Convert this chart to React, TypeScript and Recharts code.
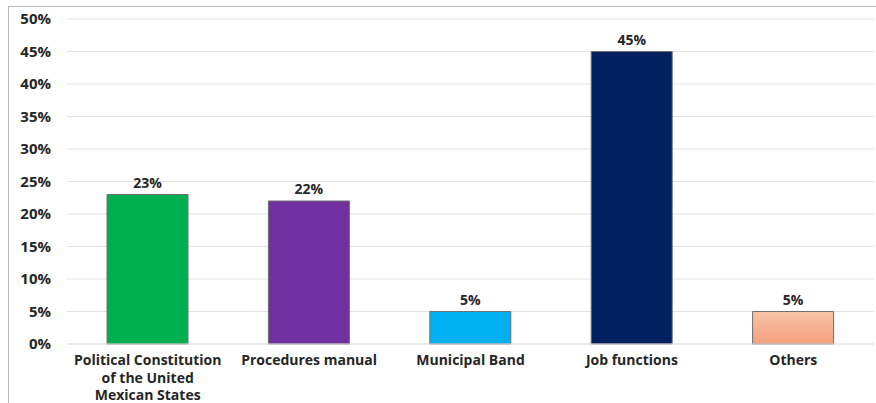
import { BarChart, Bar, XAxis, YAxis, CartesianGrid, Cell, LabelList } from "recharts";

const categories = [
  "Political Constitution\nof the United\nMexican States",
  "Procedures manual",
  "Municipal Band",
  "Job functions",
  "Others",
];
const values = [23, 22, 5, 45, 5];
const barColors = ["#00B050", "#7030A0", "#00B0F0", "#002060", "url(#othersFill)"];
const yTicks = [0, 5, 10, 15, 20, 25, 30, 35, 40, 45, 50];

const data = categories.map((name, i) => ({ name, value: values[i] }));

const FONT = "'Open Sans', 'DejaVu Sans', sans-serif";

function CategoryTick({ x, y, payload }: any) {
  const lines = String(payload.value).split("\n");
  return (
    <text
      x={x}
      y={y}
      textAnchor="middle"
      fill="#262626"
      fontFamily={FONT}
      fontWeight={700}
      fontSize={14}
    >
      {lines.map((line, i) => (
        <tspan key={i} x={x} dy={i === 0 ? 13 : 17.5}>
          {line}
        </tspan>
      ))}
    </text>
  );
}

export default function App() {
  return (
    <div style={{ position: "absolute", left: 0, top: 0, width: 876, height: 403, background: "#fff" }}>
      <div
        style={{
          position: "absolute",
          left: 8,
          top: 6,
          width: 880,
          height: 410,
          borderLeft: "1.5px solid #b8b8b8",
          borderTop: "1.5px solid #b8b8b8",
        }}
      />
      <BarChart
        width={876}
        height={403}
        data={data}
        margin={{ top: 19, right: 2, bottom: 0, left: 0 }}
        barSize={81}
      >
        <defs>
          <linearGradient id="othersFill" x1="0" y1="0" x2="0" y2="1">
            <stop offset="0%" stopColor="#F8C3A8" />
            <stop offset="100%" stopColor="#F4A07C" />
          </linearGradient>
        </defs>
        <CartesianGrid vertical={false} stroke="#e3e3e3" />
        <XAxis
          dataKey="name"
          height={59}
          axisLine={{ stroke: "#e3e3e3" }}
          tickLine={false}
          interval={0}
          tick={<CategoryTick />}
        />
        <YAxis
          width={67}
          domain={[0, 50]}
          ticks={yTicks}
          axisLine={false}
          tickLine={false}
          tickSize={0}
          tickMargin={16}
          tickFormatter={(v) => `${v}%`}
          tick={{ fill: "#262626", fontFamily: FONT, fontWeight: 700, fontSize: 15 }}
        />
        <Bar dataKey="value" isAnimationActive={false} stroke="#6f6f6f" strokeWidth={1}>
          {data.map((_, i) => (
            <Cell key={i} fill={barColors[i]} />
          ))}
          <LabelList
            dataKey="value"
            position="top"
            offset={7}
            formatter={(v: any) => `${v}%`}
            style={{ fill: "#262626", fontFamily: FONT, fontWeight: 700, fontSize: 14 }}
          />
        </Bar>
      </BarChart>
    </div>
  );
}
